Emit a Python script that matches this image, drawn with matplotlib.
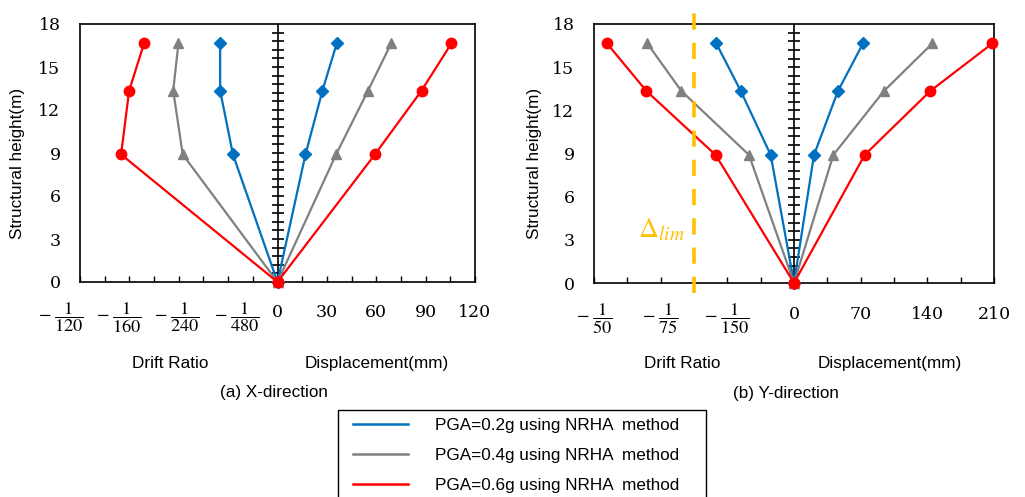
import numpy as np
import matplotlib
matplotlib.use("Agg")
import matplotlib.pyplot as plt
from matplotlib.lines import Line2D
from matplotlib.patches import Rectangle
import matplotlib.transforms as mtransforms

plt.rcParams['mathtext.fontset'] = 'stix'

# storey heights (m)
heights = [0, 8.9, 13.35, 16.65]

# X-direction
x_drift_02 = [0, 0.00188, 0.00242, 0.00242]
x_drift_04 = [0, 0.00400, 0.00440, 0.00418]
x_drift_06 = [0, 0.00660, 0.00626, 0.00563]
x_disp_02 = [0, 17.0, 27.3, 36.0]
x_disp_04 = [0, 35.6, 55.0, 69.1]
x_disp_06 = [0, 59.2, 87.5, 105.7]

# Y-direction
y_drift_02 = [0, 0.00233, 0.00533, 0.00777]
y_drift_04 = [0, 0.00450, 0.01127, 0.01467]
y_drift_06 = [0, 0.00784, 0.01477, 0.01870]
y_disp_02 = [0, 21.0, 46.2, 72.5]
y_disp_04 = [0, 41.3, 94.5, 145.3]
y_disp_06 = [0, 74.2, 143.2, 208.3]

drift_limit = 1 / 100

x_drift_labels = ['120', '160', '240', '480']
x_disp_labels = ['0', '30', '60', '90', '120']
y_drift_labels = ['50', '75', '150']
y_disp_labels = ['0', '70', '140', '210']

legend_labels = ['PGA=0.2g using NRHA  method',
                 'PGA=0.4g using NRHA  method',
                 'PGA=0.6g using NRHA  method']

colors = ['#0070C0', '#808080', '#FF0000']
markers = ['D', '^', 'o']
msizes = [5.8, 6.5, 7.5]

sans = 'Liberation Sans'
serif = 'DejaVu Serif'

fig = plt.figure(figsize=(10.25, 4.97), dpi=100)
ax1 = fig.add_axes([80/1025, 1-282/497, 395/1025, 258/497])
ax2 = fig.add_axes([594/1025, 1-283/497, 400/1025, 259/497])


def draw_panel(ax, drifts, disps, scale, lim, step, drift_pos, drift_labels,
               disp_labels, disp_step):
    for d, u, c, m, s in zip(drifts, disps, colors, markers, msizes):
        ax.plot(-np.array(d) * scale, heights, color=c, marker=m, ms=s,
                lw=1.6, clip_on=False, zorder=3)
        ax.plot(u, heights, color=c, marker=m, ms=s, lw=1.6,
                clip_on=False, zorder=3)
    # centre axis with cross ticks
    ax.axvline(0, color='black', lw=1.2, zorder=2)
    ty = np.arange(0.6, 17.9, 0.6)
    ax.plot(np.zeros_like(ty), ty, ls='none', marker='_', ms=8, mew=1.2,
            color='black', zorder=2)

    ax.set_xlim(-lim, lim)
    ax.set_ylim(0, 18)
    ax.set_yticks(np.arange(0, 19, 3))
    ax.set_yticklabels([str(v) for v in range(0, 19, 3)], fontfamily=serif,
                       fontsize=12.5)
    ax.tick_params(axis='y', length=0, pad=14)
    ax.set_xticks(np.arange(-lim, lim + 1, step))
    ax.set_xticklabels([])
    ax.tick_params(axis='x', direction='in', length=4.5, width=1)
    for sp in ax.spines.values():
        sp.set_linewidth(1.2)

    trans = mtransforms.blended_transform_factory(ax.transData, ax.transAxes)
    for xp, lab in zip(drift_pos, drift_labels):
        ax.text(xp, -0.137, r'$-\;\dfrac{1}{%s}$' % lab, transform=trans,
                ha='center', va='center', fontsize=13.2)
    for i, lab in enumerate(disp_labels):
        ax.text(i * disp_step, -0.12, lab, transform=trans, ha='center',
                va='center', fontsize=12.5, fontfamily=serif)

    ax.set_ylabel('Structural height(m)', fontfamily=sans, fontsize=12.3)


draw_panel(ax1, [x_drift_02, x_drift_04, x_drift_06],
           [x_disp_02, x_disp_04, x_disp_06], 14400, 120, 15,
           [-131.4, -96.2, -60.9, -24.8], x_drift_labels, x_disp_labels, 30)
draw_panel(ax2, [y_drift_02, y_drift_04, y_drift_06],
           [y_disp_02, y_disp_04, y_disp_06], 10500, 210, 35,
           [-210, -140, -70], y_drift_labels, y_disp_labels, 70)

ax1.yaxis.set_label_coords(-0.139, 0.461)
ax2.yaxis.set_label_coords(-0.131, 0.461)

# drift limit line
xl = -drift_limit * 10500
ax2.plot([xl, xl], [-0.7, 19.0], color='#FFC000', lw=2.6, ls=(0, (4.5, 3.6)),
         clip_on=False, zorder=4)
ax2.text(xl - 9, 3.7, r'$\Delta_{lim}$', color='#FFC000', fontsize=20,
         ha='right', va='center')

for ax, xs, cap, yo in [(ax1, (0.228, 0.752), '(a) X-direction', (-0.314, -0.430)),
                        (ax2, (0.22, 0.74), '(b) Y-direction', (-0.309, -0.425))]:
    ax.text(xs[0], yo[0], 'Drift Ratio', transform=ax.transAxes, ha='center',
            va='center', fontfamily=sans, fontsize=12.3)
    ax.text(xs[1], yo[0], 'Displacement(mm)', transform=ax.transAxes,
            ha='center', va='center', fontfamily=sans, fontsize=12.3)
    ax.text((xs[0] + xs[1]) / 2, yo[1], cap, transform=ax.transAxes,
            ha='center', va='center', fontfamily=sans, fontsize=12.3)

# legend with a frame cut by the figure edge
fig.patches.append(Rectangle((338/1025, -0.05), 368/1025, 1-410/497 + 0.05,
                             transform=fig.transFigure, fill=False,
                             edgecolor='black', lw=1.0))
handles = [Line2D([], [], color=c, lw=1.8) for c in colors]
fig.legend(handles, legend_labels, loc='upper left',
           bbox_to_anchor=(353/1025, 1-418/497), frameon=False, borderpad=0,
           borderaxespad=0, handlelength=3.2, handletextpad=1.6,
           labelspacing=0.88, prop={'family': sans, 'size': 12.3})

fig.savefig('out.png', dpi=100)
